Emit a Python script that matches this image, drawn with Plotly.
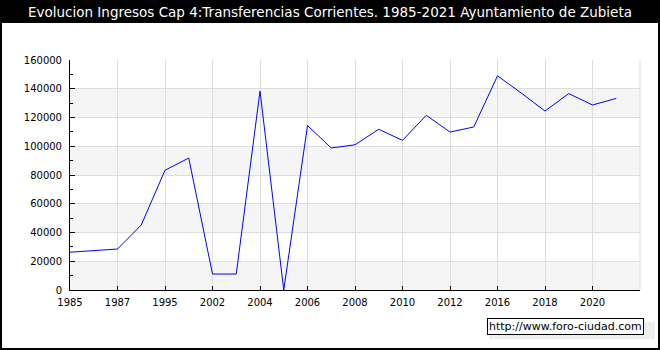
import plotly.graph_objects as go

years = ["1985", "1986", "1987", "1994", "1995", "2001", "2002", "2003", "2004",
         "2005", "2006", "2007", "2008", "2009", "2010", "2011", "2012", "2013",
         "2016", "2017", "2018", "2019", "2020", "2021"]
values = [26300, 27400, 28500, 45200, 83300, 91800, 11100, 11100, 138400,
          0, 114400, 98800, 101000, 111800, 104100, 121500, 109900, 113400,
          149000, 137000, 124500, 136600, 128700, 133300]
y_ticks = [0, 20000, 40000, 60000, 80000, 100000, 120000, 140000, 160000]

title = "Evolucion Ingresos Cap 4:Transferencias Corrientes. 1985-2021 Ayuntamiento de Zubieta"
watermark = "http://www.foro-ciudad.com"

W, H = 660, 350
L, R, T, B = 70, 20, 60, 60
PW, PH = W - L - R, H - T - B


def px_x(p):
    return (p - L) / PW


def px_y(p):
    return (H - B - p) / PH


fig = go.Figure()
fig.add_trace(go.Scatter(x=years, y=values, mode="lines",
                         line=dict(color="#0000ff", width=1),
                         hoverinfo="x+y"))

shapes = []
# alternating bands
for i in range(0, len(y_ticks) - 1, 2):
    shapes.append(dict(type="rect", xref="paper", yref="y", x0=0, x1=1,
                       y0=y_ticks[i], y1=y_ticks[i + 1], fillcolor="#f5f5f5",
                       line=dict(width=0), layer="below"))
# right gridline
shapes.append(dict(type="line", xref="paper", yref="paper", x0=1, x1=1, y0=0, y1=1,
                   line=dict(color="#dddddd", width=1), layer="below"))
# title bar
shapes.append(dict(type="rect", xref="paper", yref="paper",
                   x0=px_x(0), x1=px_x(W), y0=px_y(23), y1=px_y(0),
                   fillcolor="black", line=dict(width=0)))
# watermark shadow
shapes.append(dict(type="rect", xref="paper", yref="paper",
                   x0=px_x(489), x1=px_x(655), y0=px_y(339), y1=px_y(322),
                   fillcolor="#eeeeee", line=dict(width=0)))
# outer frame
shapes.append(dict(type="rect", xref="paper", yref="paper",
                   x0=px_x(1), x1=px_x(W - 1), y0=px_y(H - 1), y1=px_y(1),
                   fillcolor="rgba(0,0,0,0)", line=dict(color="black", width=2)))

annotations = [
    dict(text=title, xref="paper", yref="paper", x=px_x(W / 2), y=px_y(12),
         xanchor="center", yanchor="middle", showarrow=False,
         font=dict(family="DejaVu Sans", size=13.5, color="white")),
    dict(text=watermark, xref="paper", yref="paper", x=px_x(644), y=px_y(335),
         xanchor="right", yanchor="bottom", showarrow=False,
         bgcolor="white", bordercolor="black", borderwidth=1, borderpad=1,
         font=dict(family="DejaVu Sans", size=11, color="black")),
]

fig.update_layout(
    width=W, height=H,
    margin=dict(l=L, r=R, t=T, b=B),
    paper_bgcolor="white", plot_bgcolor="white",
    showlegend=False,
    font=dict(family="DejaVu Sans", size=10, color="black"),
    shapes=shapes, annotations=annotations,
    xaxis=dict(type="category", range=[0, 24], tickmode="linear", tick0=0, dtick=2,
               showgrid=True, gridcolor="#dddddd", gridwidth=1,
               showline=True, linecolor="black", linewidth=1,
               ticks="inside", ticklen=4, tickcolor="black",
               ticklabelstandoff=3,
               tickfont=dict(family="DejaVu Sans", size=10, color="black"),
               fixedrange=True),
    yaxis=dict(range=[0, 160000], tickmode="array", tickvals=y_ticks,
               ticktext=[str(v) for v in y_ticks],
               showgrid=True, gridcolor="#dddddd", gridwidth=1,
               showline=True, linecolor="black", linewidth=1, zeroline=False,
               ticks="inside", ticklen=5, tickcolor="black",
               ticklabelstandoff=5,
               minor=dict(dtick=10000, tick0=0, ticks="inside", ticklen=3,
                          tickcolor="black", showgrid=False),
               tickfont=dict(family="DejaVu Sans", size=10, color="black"),
               fixedrange=True),
)

fig.write_html("out.html", post_script="document.body.style.margin='0';",
               config={"displayModeBar": False})
